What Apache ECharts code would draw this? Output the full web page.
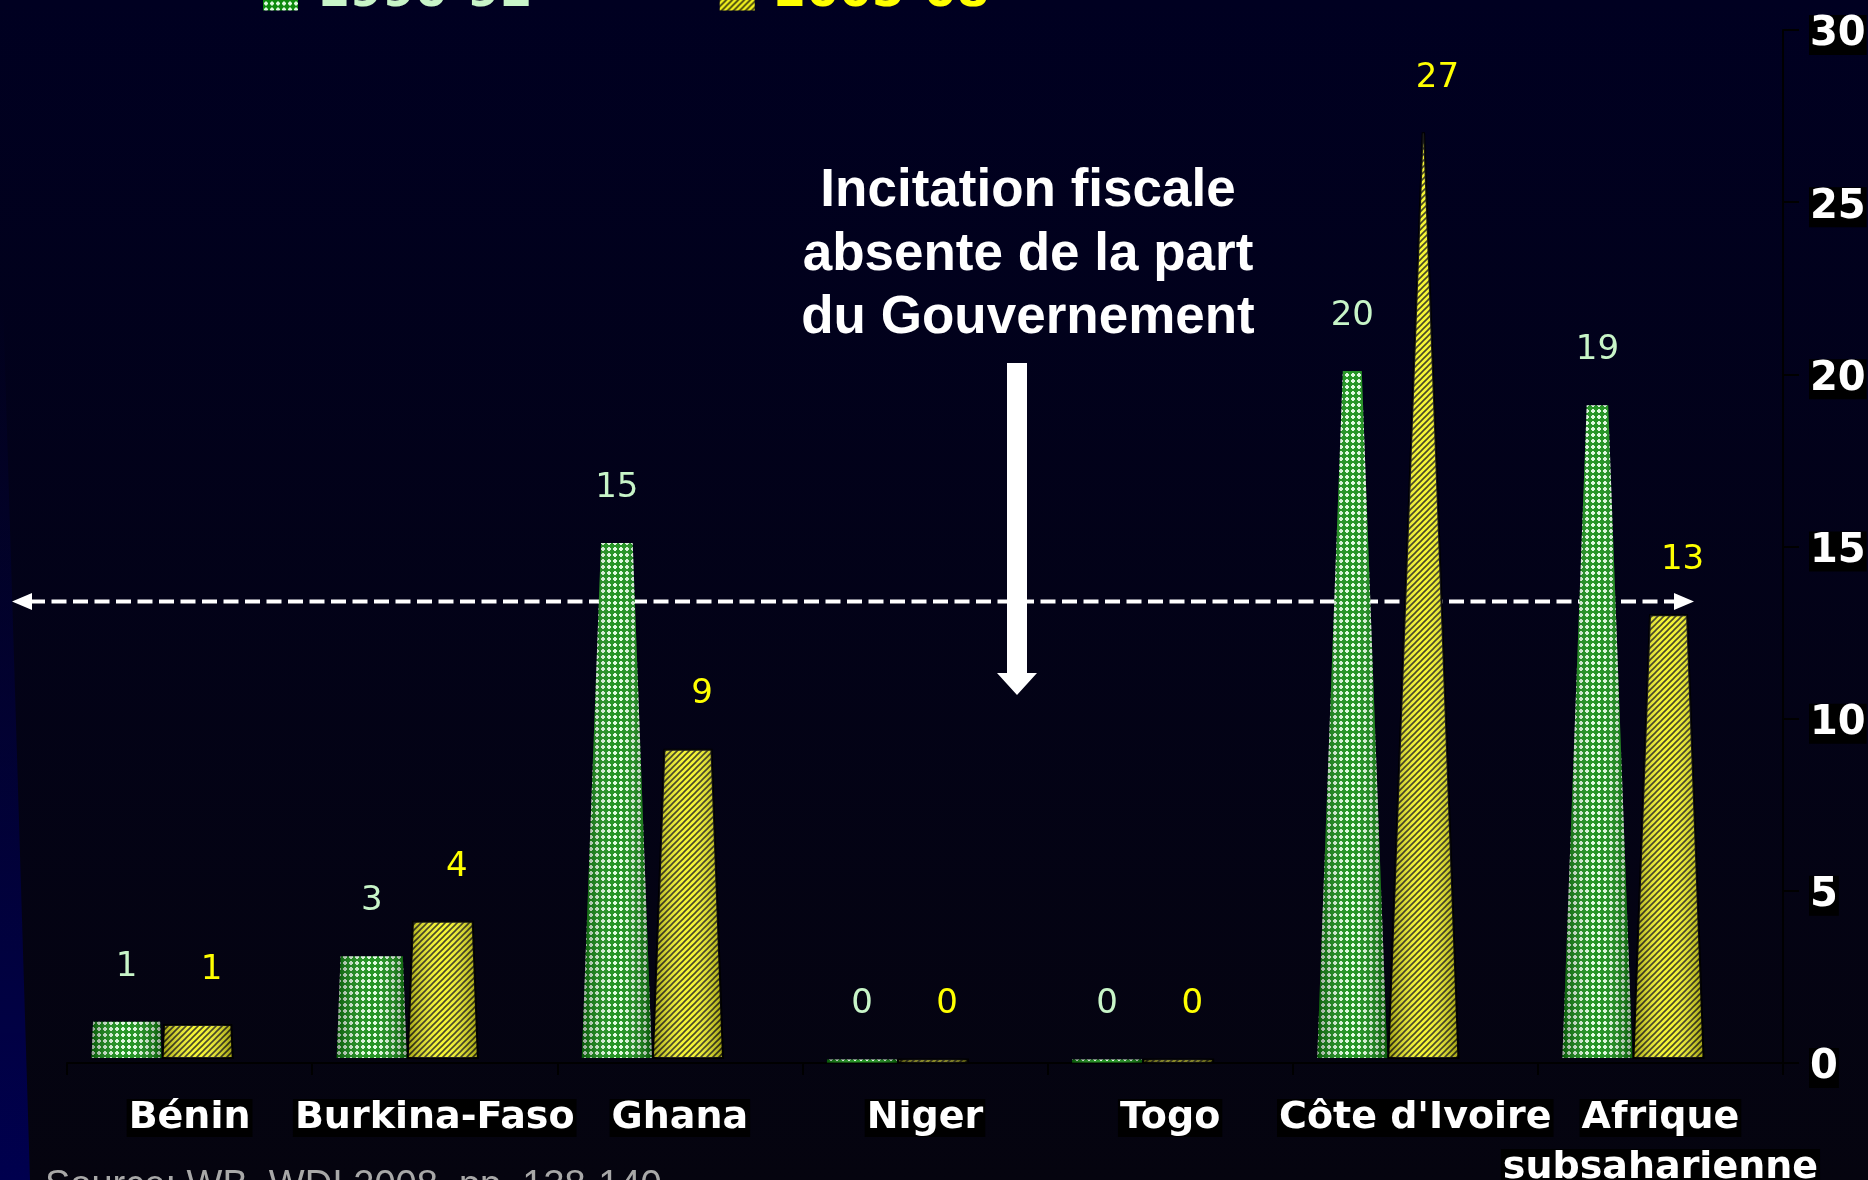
<!DOCTYPE html>
<html>
<head>
<meta charset="utf-8">
<title>Incitation fiscale</title>
<script src="https://cdn.jsdelivr.net/npm/echarts@6.0.0/dist/echarts.min.js"></script>
<style>
  html, body { margin: 0; padding: 0; background: #02021a; }
  #main { width: 1868px; height: 1180px; }
</style>
</head>
<body>
<div id="main"></div>
<script>
// donnees
const categories = ['Bénin', 'Burkina-Faso', 'Ghana', 'Niger', 'Togo', "Côte d'Ivoire", 'Afrique\nsubsaharienne'];
const seriesNames = ['1990-92', '2005-08'];
const values9092 = [1.2, 3.1, 15.1, 0.1, 0.1, 20.1, 19.1];
const values0508 = [1.1, 4.1, 9.1, 0.1, 0.1, 27.0, 13.0];
const yMin = 0, yMax = 30, yInterval = 5;
const referenceLevel = 13.4;
const annotation = 'Incitation fiscale\nabsente de la part\ndu Gouvernement';
const sourceText = 'Source: WB, WDI 2008, pp. 138-140';

// motifs des barres
function makePattern(kind) {
  const c = document.createElement('canvas');
  c.width = 6; c.height = 6;
  const ctx = c.getContext('2d');
  if (kind === 'green') {
    ctx.fillStyle = '#0e8a0e';
    ctx.fillRect(0, 0, 6, 6);
    ctx.fillStyle = '#dcf9dc';
    ctx.fillRect(1, 2, 4, 2);
    ctx.fillRect(2, 1, 2, 4);
  } else {
    ctx.fillStyle = '#f4f41e';
    ctx.fillRect(0, 0, 6, 6);
    ctx.strokeStyle = '#34340e';
    ctx.lineWidth = 1.6;
    ctx.beginPath();
    ctx.moveTo(-1, 7); ctx.lineTo(7, -1);
    ctx.moveTo(-1, 1); ctx.lineTo(1, -1);
    ctx.moveTo(5, 7); ctx.lineTo(7, 5);
    ctx.stroke();
  }
  return { image: c, repeat: 'repeat' };
}
const greenFill = makePattern('green');
const yellowFill = makePattern('yellow');

const APEX = Math.max.apply(null, values9092.concat(values0508)) * 1.02;
const BASE_W = 0.286;
const FLOOR_LIFT = 5; // les cones flottent un peu au-dessus de l'axe

const shade = {
  type: 'linear', x: 0, y: 0, x2: 1, y2: 0,
  colorStops: [
    { offset: 0, color: 'rgba(0,0,0,0.35)' },
    { offset: 0.45, color: 'rgba(255,255,255,0.10)' },
    { offset: 0.55, color: 'rgba(255,255,255,0.10)' },
    { offset: 1, color: 'rgba(0,0,0,0.35)' }
  ]
};

// barres en cone (troncs de pyramide)
function makeRender(offset, fill, stroke, labelColor, labelDx) {
  return function (params, api) {
    const i = api.value(0), v = api.value(1);
    const base = api.coord([i, 0]);
    const top = api.coord([i, v]);
    const band = api.size([1, 0])[0];
    const cx = base[0] + offset * band;
    const by = Math.max(top[1], base[1] - FLOOR_LIFT) + (v < 0.5 ? FLOOR_LIFT - 2 : 0);
    const w0 = BASE_W * band;
    const wt = w0 * Math.max(0, 1 - v / APEX);
    const pts = [[cx - w0 / 2, by], [cx + w0 / 2, by], [cx + wt / 2, top[1]], [cx - wt / 2, top[1]]];
    return {
      type: 'group',
      children: [
        { type: 'polygon', shape: { points: pts }, style: { fill: fill, stroke: stroke, lineWidth: stroke ? 2 : 0 } },
        { type: 'polygon', shape: { points: pts }, style: { fill: shade }, silent: true },
        {
          type: 'text', x: cx + labelDx, y: top[1] - 55,
          style: {
            text: String(Math.round(v)), fill: labelColor,
            font: '34px "DejaVu Sans"', align: 'center', verticalAlign: 'middle'
          }
        }
      ]
    };
  };
}

const chart = echarts.init(document.getElementById('main'));

chart.setOption({
  animation: false,
  backgroundColor: {
    type: 'linear', x: 0, y: 0, x2: 0, y2: 1,
    colorStops: [{ offset: 0, color: '#000021' }, { offset: 1, color: '#05040f' }]
  },
  legend: {
    top: -35,
    left: 258,
    icon: 'rect',
    itemWidth: 35,
    itemHeight: 34,
    itemGap: 187,
    textStyle: { fontFamily: 'DejaVu Sans', fontWeight: 'bold', fontSize: 47, padding: [0, 0, 0, 14] },
    data: [
      { name: seriesNames[0], textStyle: { color: '#c8f5c8' } },
      { name: seriesNames[1], textStyle: { color: '#ffff00' } }
    ]
  },
  grid: { left: 67, right: 85, top: 30, bottom: 117, outerBoundsMode: 'none' },
  xAxis: {
    type: 'category',
    data: categories,
    axisLine: { lineStyle: { color: '#000', width: 2 } },
    axisTick: { show: true, length: 12, lineStyle: { color: '#000', width: 2 } },
    axisLabel: {
      interval: 0,
      margin: 30,
      formatter: function (v) {
        return v.split('\n').map(function (s) { return '{b|' + s + '}'; }).join('\n');
      },
      rich: {
        b: {
          color: '#fff', fontFamily: 'DejaVu Sans', fontWeight: 'bold', fontSize: 38,
          backgroundColor: '#000', lineHeight: 50, padding: [0, 2]
        }
      }
    }
  },
  yAxis: {
    type: 'value',
    position: 'right',
    min: yMin, max: yMax, interval: yInterval,
    splitLine: { show: false },
    axisLine: { show: true, lineStyle: { color: '#000', width: 2 } },
    axisTick: { show: true, length: 16, lineStyle: { color: '#000', width: 2 } },
    axisLabel: {
      margin: 26,
      // ligne vide en tete pour descendre un peu le chiffre sur sa graduation
      formatter: function (v) { return '{gap| }\n{a|' + v + '}'; },
      rich: {
        gap: { fontSize: 1, lineHeight: 10 },
        a: {
          color: '#fff', fontFamily: 'DejaVu Sans', fontWeight: 'bold', fontSize: 40,
          lineHeight: 44, backgroundColor: '#000', padding: [0, 1]
        }
      }
    }
  },
  series: [
    {
      name: seriesNames[0],
      type: 'custom',
      itemStyle: { color: greenFill },
      encode: { x: 0, y: 1 },
      data: values9092.map(function (v, i) { return [i, v]; }),
      renderItem: makeRender(-0.257, greenFill, null, '#c8f5c8', 0)
    },
    {
      name: seriesNames[1],
      type: 'custom',
      itemStyle: { color: yellowFill },
      encode: { x: 0, y: 1 },
      data: values0508.map(function (v, i) { return [i, v]; }),
      renderItem: makeRender(0.033, yellowFill, '#000', '#ffff00', 14)
    }
  ]
});

// ligne de reference en pointilles + annotations
const yRef = chart.convertToPixel({ yAxisIndex: 0 }, referenceLevel);

chart.setOption({
  graphic: [
    {
      type: 'polygon', silent: true, z: -1,
      shape: { points: [[0, 300], [3, 300], [30, 1180], [0, 1180]] },
      style: {
        fill: {
          type: 'linear', x: 0, y: 0, x2: 0, y2: 1,
          colorStops: [{ offset: 0, color: 'rgba(0,0,80,0)' }, { offset: 1, color: '#00004e' }]
        }
      }
    },
    {
      type: 'line', silent: true,
      shape: { x1: 30, y1: yRef, x2: 1676, y2: yRef },
      style: { stroke: '#fff', lineWidth: 4, lineDash: [15, 6.5] }
    },
    {
      type: 'polygon', silent: true,
      shape: { points: [[12, yRef], [32, yRef - 8.5], [32, yRef + 8.5]] },
      style: { fill: '#fff' }
    },
    {
      type: 'polygon', silent: true,
      shape: { points: [[1694, yRef], [1674, yRef - 8.5], [1674, yRef + 8.5]] },
      style: { fill: '#fff' }
    },
    {
      type: 'text', x: 1028, y: 255, silent: true,
      style: {
        text: annotation, fill: '#fff', font: 'bold 53px "Liberation Sans"',
        align: 'center', verticalAlign: 'middle', lineHeight: 63.5
      }
    },
    {
      type: 'polygon', silent: true,
      shape: { points: [[1007, 363], [1027, 363], [1027, 673], [1037, 673], [1017, 695], [997, 673], [1007, 673]] },
      style: { fill: '#fff' }
    },
    {
      type: 'text', x: 45, y: 1168, silent: true,
      style: { text: sourceText, fill: '#a8a8a8', font: '38px "Liberation Sans"', verticalAlign: 'top' }
    }
  ]
});
</script>
</body>
</html>
